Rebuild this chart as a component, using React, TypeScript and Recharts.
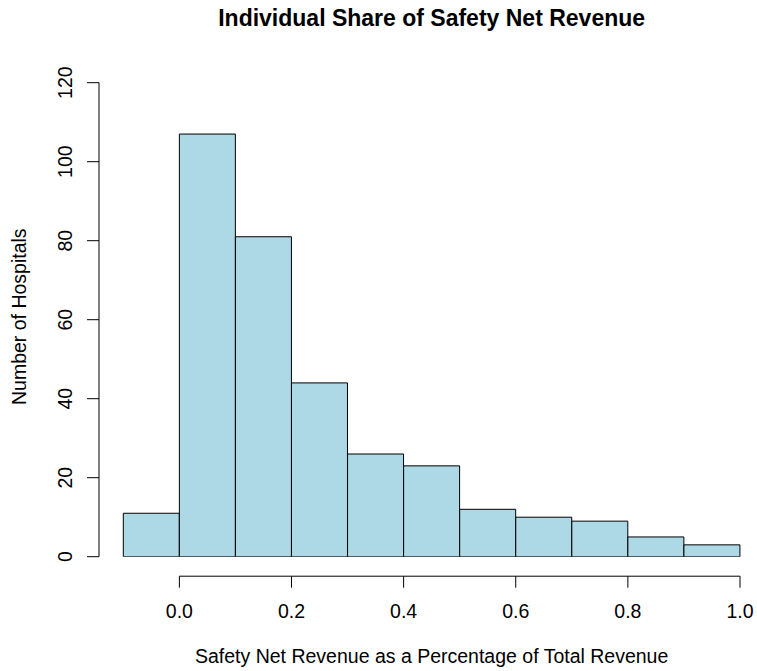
import React from 'react';
import { BarChart, Bar, XAxis, YAxis } from 'recharts';

// ---- data ----
const binStarts = [-0.1, 0.0, 0.1, 0.2, 0.3, 0.4, 0.5, 0.6, 0.7, 0.8, 0.9];
const binWidth = 0.1;
const hospitalCounts = [11, 107, 81, 44, 26, 23, 12, 10, 9, 5, 3];
const xTickValues = [0, 0.2, 0.4, 0.6, 0.8, 1.0];
const yTickValues = [0, 20, 40, 60, 80, 100, 120];
const titleText = 'Individual Share of Safety Net Revenue';
const xLabelText = 'Safety Net Revenue as a Percentage of Total Revenue';
const yLabelText = 'Number of Hospitals';

// ---- layout ----
const W = 757;
const H = 671;
const PLOT_LEFT = 123.3;
const PLOT_RIGHT = 740;
const PLOT_TOP = 82.7;
const PLOT_BOTTOM = 556.7;
const X_MIN = binStarts[0];
const X_MAX = binStarts[binStarts.length - 1] + binWidth;
const Y_MAX = yTickValues[yTickValues.length - 1];
const PX_PER_X = (PLOT_RIGHT - PLOT_LEFT) / (X_MAX - X_MIN);
const PX_PER_Y = (PLOT_BOTTOM - PLOT_TOP) / Y_MAX;
const FONT = '"Liberation Sans", Arial, Helvetica, sans-serif';
const AXIS_COLOR = '#000';
const TICK_FONT = 19.5;

const data = binStarts.map((s, i) => ({
  bin: s.toFixed(1),
  start: s,
  count: hospitalCounts[i],
}));

const XTick = (props: any) => {
  const { x, payload, index } = props;
  const y = PLOT_BOTTOM;
  const ay = y + 19.5;
  const span = (xTickValues[xTickValues.length - 1] - xTickValues[0]) * PX_PER_X;
  return (
    <g>
      {index === 0 && (
        <line x1={x} x2={x + span} y1={ay} y2={ay} stroke={AXIS_COLOR} strokeWidth={1} />
      )}
      <line x1={x} x2={x} y1={ay} y2={ay + 11.5} stroke={AXIS_COLOR} strokeWidth={1} />
      <text
        x={x}
        y={y + 61.3}
        textAnchor="middle"
        fontFamily={FONT}
        fontSize={TICK_FONT}
        fill="#000"
      >
        {Number(payload.value).toFixed(1)}
      </text>
    </g>
  );
};

const YTick = (props: any) => {
  const { y, payload, index } = props;
  const x = PLOT_LEFT;
  const ax = x - 24.3;
  const span = (yTickValues[yTickValues.length - 1] - yTickValues[0]) * PX_PER_Y;
  return (
    <g>
      {index === 0 && (
        <line x1={ax} x2={ax} y1={y} y2={y - span} stroke={AXIS_COLOR} strokeWidth={1} />
      )}
      <line x1={ax - 12} x2={ax} y1={y} y2={y} stroke={AXIS_COLOR} strokeWidth={1} />
      <text
        transform={`translate(${x - 51}, ${y}) rotate(-90)`}
        textAnchor="middle"
        fontFamily={FONT}
        fontSize={TICK_FONT}
        fill="#000"
      >
        {String(payload.value)}
      </text>
    </g>
  );
};

export default function App() {
  return (
    <div style={{ position: 'absolute', left: 0, top: 0, width: W, height: H, background: '#fff' }}>
      <BarChart
        width={W}
        height={H}
        data={data}
        margin={{ top: PLOT_TOP, right: W - PLOT_RIGHT, left: 0, bottom: 0 }}
        barCategoryGap={0}
        barGap={0}
      >
        <XAxis xAxisId="cat" dataKey="bin" hide height={0} />
        <XAxis
          xAxisId="num"
          dataKey="start"
          type="number"
          domain={[X_MIN, X_MAX]}
          allowDataOverflow
          ticks={xTickValues}
          interval={0}
          height={H - PLOT_BOTTOM}
          axisLine={false}
          tickLine={false}
          tickSize={0}
          tickMargin={0}
          tick={<XTick />}
        />
        <YAxis
          yAxisId="y"
          type="number"
          domain={[0, Y_MAX]}
          allowDataOverflow
          ticks={yTickValues}
          interval={0}
          width={PLOT_LEFT}
          axisLine={false}
          tickLine={false}
          tickSize={0}
          tickMargin={0}
          tick={<YTick />}
        />
        <Bar
          dataKey="count"
          xAxisId="cat"
          yAxisId="y"
          fill="#ADD8E6"
          stroke="#000"
          strokeWidth={1}
          isAnimationActive={false}
        />
      </BarChart>
      <svg
        width={W}
        height={H}
        style={{ position: 'absolute', left: 0, top: 0, pointerEvents: 'none' }}
      >
        <text
          x={(PLOT_LEFT + PLOT_RIGHT) / 2}
          y={26}
          textAnchor="middle"
          fontFamily={FONT}
          fontWeight="bold"
          fontSize={23}
          fill="#000"
        >
          {titleText}
        </text>
        <text
          x={(PLOT_LEFT + PLOT_RIGHT) / 2}
          y={662.5}
          textAnchor="middle"
          fontFamily={FONT}
          fontSize={19.5}
          fill="#000"
        >
          {xLabelText}
        </text>
        <text
          transform={`translate(26, ${(PLOT_TOP + PLOT_BOTTOM) / 2 - 3}) rotate(-90)`}
          textAnchor="middle"
          fontFamily={FONT}
          fontSize={19.5}
          fill="#000"
        >
          {yLabelText}
        </text>
      </svg>
    </div>
  );
}
